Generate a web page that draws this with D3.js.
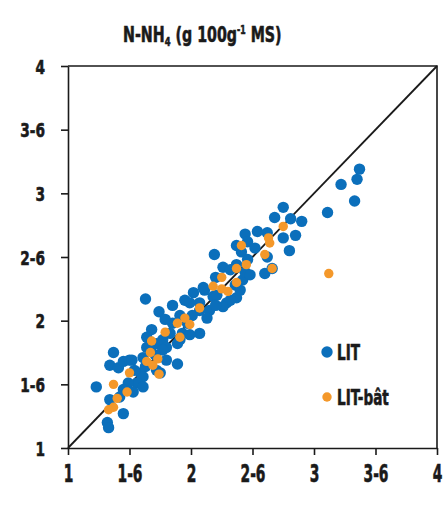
<!DOCTYPE html>
<meta charset="utf-8">
<style>

body {
  margin: 0;
  background: #fff;
}

text {
  font-family: "DejaVu Sans Condensed", "DejaVu Sans", sans-serif;
  font-weight: bold;
  fill: #1a1a1a;
  stroke: #1a1a1a;
  stroke-width: 0.6px;
}

.axis path,
.axis line {
  stroke: #1a1a1a;
  stroke-width: 1.6px;
}

</style>
<body>
<script src="https://cdn.jsdelivr.net/npm/d3@7"></script>
<script>

// tick values and the labels as printed on the chart
var tickValues = [1, 1.5, 2, 2.5, 3, 3.5, 4];
var tickLabels = ["1", "1-6", "2", "2-6", "3", "3-6", "4"];

// LIT points [x, y]
var litX = [3.37, 3.35, 3.22, 3.33, 3.11, 2.75, 2.68, 2.81, 2.90, 2.75, 2.85, 2.80, 2.54, 2.62, 2.44,
  2.46, 2.37, 2.19, 2.41, 2.62, 2.60, 2.66, 2.26, 2.32, 2.37, 2.46, 2.42, 2.44, 2.20, 2.11,
  2.02, 2.10, 2.18, 2.37, 2.29, 2.07, 1.95, 2.21, 2.32, 1.63, 1.85, 1.74, 1.99, 2.07, 2.15,
  2.26, 1.91, 2.01, 2.13, 2.07, 1.85, 1.97, 1.68, 1.83, 1.64, 1.77, 1.72, 1.89, 1.64, 1.80,
  1.67, 1.77, 1.37, 1.34, 1.41, 1.45, 1.50, 1.89, 1.80, 1.61, 1.52, 1.72, 1.59, 1.63, 1.61,
  1.56, 1.49, 1.61, 1.53, 1.23, 1.45, 1.42, 1.34, 1.45, 1.32, 1.33, 1.75, 1.91, 2.36, 2.52,
  1.79, 1.93, 1.99, 1.71, 2.20, 2.40, 1.54, 2.48];
var litY = [3.19, 3.11, 3.07, 2.94, 2.85, 2.89, 2.81, 2.80, 2.78, 2.65, 2.67, 2.55, 2.70, 2.69, 2.68,
  2.62, 2.59, 2.52, 2.54, 2.50, 2.37, 2.41, 2.42, 2.40, 2.44, 2.48, 2.32, 2.38, 2.34, 2.24,
  2.22, 2.26, 2.19, 2.18, 2.14, 2.14, 2.16, 2.20, 2.16, 2.17, 2.12, 2.07, 2.14, 2.08, 2.08,
  2.11, 2.04, 2.04, 2.02, 1.90, 1.98, 1.98, 1.93, 1.90, 1.87, 1.85, 1.82, 1.82, 1.79, 1.79,
  1.77, 1.77, 1.75, 1.65, 1.63, 1.68, 1.69, 1.66, 1.69, 1.71, 1.69, 1.61, 1.59, 1.64, 1.56,
  1.51, 1.51, 1.48, 1.44, 1.48, 1.46, 1.40, 1.38, 1.27, 1.20, 1.16, 1.59, 1.85, 2.28, 2.57,
  2.01, 1.90, 1.89, 1.73, 2.12, 2.24, 1.61, 2.36];

// LIT-bât points [x, y]
var batX = [2.75, 2.41, 2.63, 2.64, 2.60, 2.66, 3.12, 2.45, 2.37, 2.25, 2.37, 2.18, 2.25, 2.30, 2.07,
  1.95, 1.89, 1.99, 1.91, 1.79, 1.68, 1.67, 1.64, 1.69, 1.73, 1.74, 1.50, 1.37, 1.48, 1.40,
  1.37, 1.33];
var batY = [2.74, 2.59, 2.65, 2.61, 2.52, 2.41, 2.37, 2.44, 2.41, 2.34, 2.30, 2.27, 2.25, 2.23, 2.10,
  2.02, 1.98, 1.97, 1.87, 1.91, 1.84, 1.75, 1.68, 1.65, 1.70, 1.58, 1.59, 1.50, 1.44, 1.39,
  1.32, 1.30];

var series = [
  {name: "LIT", xs: litX, ys: litY, color: "#0b6fbb", r: 5.7},
  {name: "LIT-bât", xs: batX, ys: batY, color: "#f4982a", r: 4.7}
];

var width = 443,
    height = 526;

var x = d3.scaleLinear()
    .domain([1, 4])
    .range([68, 437]);

var y = d3.scaleLinear()
    .domain([1, 4])
    .range([448, 66]);

// squeeze a text horizontally (the original face is very narrow)
function narrow(sel, k) {
  sel.each(function() {
    var t = d3.select(this),
        x0 = +t.attr("x") || 0;
    t.attr("x", x0 / k).attr("transform", "scale(" + k + ",1)");
  });
}

var svg = d3.select("body").append("svg")
    .attr("width", width)
    .attr("height", height);

// frame on top and right
svg.append("path")
    .attr("d", "M" + x(1) + "," + y(4) + "H" + x(4) + "V" + y(1))
    .attr("fill", "none")
    .attr("stroke", "#1a1a1a")
    .attr("stroke-width", 1.6);

var xAxis = svg.append("g")
    .attr("class", "axis")
    .attr("transform", "translate(0," + y(1) + ")")
    .call(d3.axisBottom(x)
      .tickValues(tickValues)
      .tickFormat(function(d, i) { return tickLabels[i]; })
      .tickSizeInner(7)
      .tickSizeOuter(0)
      .tickPadding(10));

xAxis.selectAll("text")
    .attr("font-size", 24)
    .attr("dy", "0.71em")
    .call(narrow, 0.64);

var yAxis = svg.append("g")
    .attr("class", "axis")
    .attr("transform", "translate(" + x(1) + ",0)")
    .call(d3.axisLeft(y)
      .tickValues(tickValues)
      .tickFormat(function(d, i) { return tickLabels[i]; })
      .tickSizeInner(7)
      .tickSizeOuter(0)
      .tickPadding(16));

yAxis.selectAll("text")
    .attr("font-size", 20)
    .attr("dy", "0.36em")
    .call(narrow, 0.76);

svg.selectAll(".axis text")
    .attr("font-family", null)
    .attr("fill", "#1a1a1a");

// 1:1 line
svg.append("line")
    .attr("x1", x(1))
    .attr("y1", y(1))
    .attr("x2", x(4))
    .attr("y2", y(4))
    .attr("stroke", "#1a1a1a")
    .attr("stroke-width", 1.8);

series.forEach(function(s) {
  svg.append("g").selectAll("circle")
      .data(s.xs.map(function(v, i) { return [v, s.ys[i]]; }))
    .enter().append("circle")
      .attr("cx", function(d) { return x(d[0]); })
      .attr("cy", function(d) { return y(d[1]); })
      .attr("r", s.r)
      .attr("fill", s.color);
});

// legend
var legend = svg.append("g")
    .selectAll("g")
    .data(series)
  .enter().append("g")
    .attr("transform", function(d, i) { return "translate(327," + (352 + i * 45) + ")"; });

legend.append("circle")
    .attr("r", function(d) { return d.r; })
    .attr("fill", function(d) { return d.color; });

legend.append("text")
    .attr("x", 10)
    .attr("dy", "0.36em")
    .attr("font-size", 21)
    .text(function(d) { return d.name; })
    .call(narrow, 0.72);

// title
var title = svg.append("text")
    .attr("x", 123)
    .attr("y", 42)
    .attr("font-size", 22);

title.append("tspan").text("N-NH");
title.append("tspan").attr("font-size", 13).attr("dy", 4).text("4");
title.append("tspan").attr("dy", -4).text(" (g 100g");
title.append("tspan").attr("font-size", 12).attr("dy", -8).text("-1");
title.append("tspan").attr("dy", 8).text(" MS)");

title.call(narrow, 0.72);

</script>
</body>
